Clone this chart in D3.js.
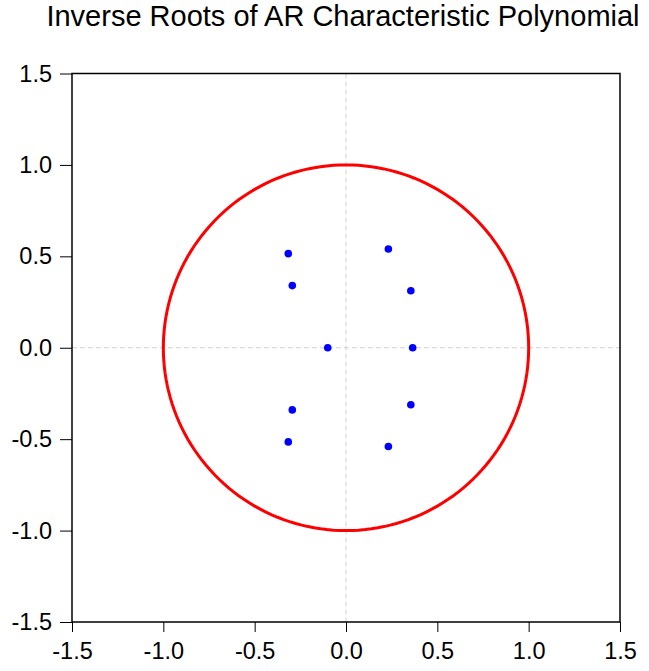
<!DOCTYPE html>
<html lang="en">
<head>
  <meta charset="UTF-8">
  <title>Inverse Roots of AR Characteristic Polynomial</title>
  <style>
    body { margin: 0; background: #fff; }
    text { font-family: "Liberation Sans", Arial, sans-serif; }
  </style>
  <script src="https://cdn.jsdelivr.net/npm/d3@7"></script>
</head>
<body>
<svg width="649" height="671"></svg>
<script>
// inverse roots (real, imaginary)
var rootRe = [-0.316, -0.316, -0.294, -0.294, -0.100, 0.232, 0.232, 0.355, 0.355, 0.365];
var rootIm = [0.515, -0.515, 0.340, -0.340, 0.000, 0.540, -0.540, 0.312, -0.312, 0.000];
var tickVals = [-1.5, -1.0, -0.5, 0.0, 0.5, 1.0, 1.5];

var svg = d3.select("svg");
var pLeft = 72, pRight = 620, pTop = 73.5, pBottom = 622;

var x = d3.scaleLinear().domain([-1.5, 1.5]).range([pLeft, pRight]);
var y = d3.scaleLinear().domain([-1.5, 1.5]).range([pBottom, pTop]);

svg.append("text")
    .attr("x", 343).attr("y", 26)
    .attr("text-anchor", "middle")
    .attr("font-size", 29)
    .text("Inverse Roots of AR Characteristic Polynomial");

// zero grid lines
svg.append("line")
    .attr("x1", x(0)).attr("x2", x(0)).attr("y1", pTop).attr("y2", pBottom)
    .attr("stroke", "#d0d0d0").attr("stroke-dasharray", "5,3");
svg.append("line")
    .attr("x1", pLeft).attr("x2", pRight).attr("y1", y(0)).attr("y2", y(0))
    .attr("stroke", "#d0d0d0").attr("stroke-dasharray", "5,3");

// unit circle
var theta = d3.range(0, 361, 2).map(function(d) { return d * Math.PI / 180; });
svg.append("path")
    .datum(theta)
    .attr("fill", "none")
    .attr("stroke", "#ff0000")
    .attr("stroke-width", 3)
    .attr("d", d3.line()
        .x(function(t) { return x(Math.cos(t)); })
        .y(function(t) { return y(Math.sin(t)); }));

// roots
svg.append("g").selectAll("circle")
    .data(rootRe)
    .enter().append("circle")
    .attr("cx", function(d) { return x(d); })
    .attr("cy", function(d, i) { return y(rootIm[i]); })
    .attr("r", 3.8)
    .attr("fill", "#0000ff");

// frame
svg.append("rect")
    .attr("x", pLeft).attr("y", pTop)
    .attr("width", pRight - pLeft).attr("height", pBottom - pTop)
    .attr("fill", "none").attr("stroke", "#000").attr("stroke-width", 1.5);

var fmt = function(d) { return d3.format(".1f")(d).replace("\u2212", "-"); };
var xAxis = svg.append("g")
    .attr("transform", "translate(0," + pBottom + ")")
    .call(d3.axisBottom(x).tickValues(tickVals).tickFormat(fmt).tickSize(10).tickPadding(10));
var yAxis = svg.append("g")
    .attr("transform", "translate(" + pLeft + ",0)")
    .call(d3.axisLeft(y).tickValues(tickVals).tickFormat(fmt).tickSize(12).tickPadding(8));

[xAxis, yAxis].forEach(function(a) {
    a.select(".domain").remove();
    a.selectAll("text").attr("font-size", 23.5).attr("font-family", "Liberation Sans, Arial, sans-serif").attr("fill", "#000");
    a.selectAll("line").attr("stroke", "#000");
});
</script>
</body>
</html>
